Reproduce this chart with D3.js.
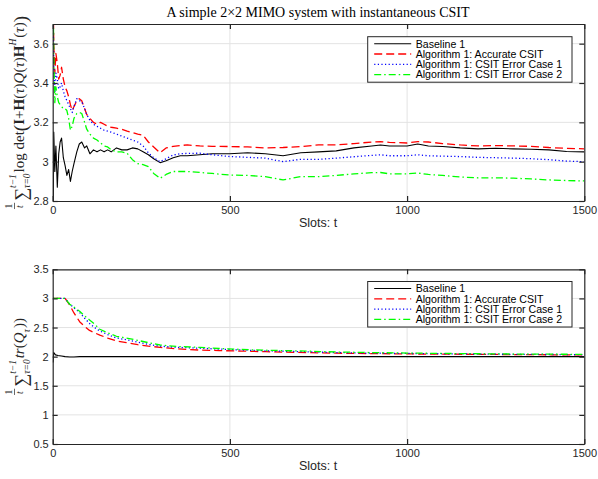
<!DOCTYPE html>
<html>
<head>
<meta charset="utf-8">
<script src="https://cdn.jsdelivr.net/npm/d3@7"></script>
<style>
body { margin: 0; background: #fff; }
</style>
</head>
<body>
<div id="chart"></div>
<script>
const width = 598;
const height = 479;

// upper panel: time averaged log det rate
const topSlots = [1, 3, 6, 9, 13, 17, 21, 25, 30, 35, 40, 45, 50, 55, 60, 68, 75, 82, 90, 96,
  105, 115, 125, 135, 145, 155, 165, 180, 195, 210, 225, 240, 255, 270, 285, 303, 320, 340, 360, 380,
  415, 450, 500, 550, 600, 650, 700, 750, 800, 850, 900, 925, 950, 1000, 1030, 1060, 1100, 1150, 1200, 1250,
  1300, 1350, 1400, 1450, 1500];
const topBaseline = [2.6, 3.15, 2.95, 3.08, 2.87, 3.04, 3.1, 3.12, 3.02, 2.98, 2.93, 2.96, 2.9, 2.95, 2.99, 3.05, 3.09, 3.1, 3.07, 3.08,
  3.04, 3.06, 3.05, 3.06, 3.05, 3.06, 3.05, 3.07, 3.06, 3.06, 3.07, 3.065, 3.05, 3.035, 3.015, 2.995, 3.005, 3.02, 3.03, 3.03,
  3.035, 3.04, 3.04, 3.045, 3.04, 3.03, 3.045, 3.05, 3.055, 3.07, 3.08, 3.085, 3.08, 3.08, 3.09, 3.08, 3.077, 3.07, 3.065, 3.068,
  3.065, 3.063, 3.06, 3.052, 3.05];
const topAccurate = [3.9, 3.6, 3.45, 3.55, 3.5, 3.42, 3.44, 3.48, 3.42, 3.38, 3.36, 3.33, 3.29, 3.26, 3.28, 3.31, 3.32, 3.31, 3.27, 3.24,
  3.22, 3.2, 3.19, 3.2, 3.19, 3.18, 3.175, 3.17, 3.165, 3.155, 3.148, 3.14, 3.135, 3.1, 3.075, 3.045, 3.07, 3.078, 3.082, 3.085,
  3.08, 3.078, 3.077, 3.075, 3.07, 3.072, 3.077, 3.085, 3.085, 3.092, 3.1, 3.102, 3.098, 3.095, 3.102, 3.1, 3.092, 3.085, 3.08, 3.082,
  3.08, 3.078, 3.072, 3.068, 3.065];
const topError1 = [3.8, 3.5, 3.35, 3.45, 3.42, 3.37, 3.38, 3.4, 3.36, 3.33, 3.31, 3.29, 3.27, 3.25, 3.28, 3.32, 3.31, 3.305, 3.27, 3.24,
  3.21, 3.19, 3.18, 3.17, 3.16, 3.155, 3.15, 3.14, 3.13, 3.12, 3.11, 3.1, 3.08, 3.045, 3.02, 3.0, 3.015, 3.034, 3.04, 3.042,
  3.043, 3.035, 3.026, 3.022, 3.018, 3.0, 3.012, 3.012, 3.018, 3.025, 3.032, 3.035, 3.03, 3.03, 3.035, 3.03, 3.028, 3.026, 3.022, 3.02,
  3.018, 3.015, 3.01, 3.003, 3.0];
const topError2 = [3.9, 3.55, 3.3, 3.38, 3.33, 3.3, 3.29, 3.28, 3.27, 3.27, 3.26, 3.22, 3.16, 3.18, 3.22, 3.245, 3.25, 3.245, 3.2, 3.165,
  3.14, 3.12, 3.11, 3.095, 3.08, 3.075, 3.06, 3.05, 3.05, 3.043, 3.01, 2.99, 2.985, 2.975, 2.94, 2.915, 2.935, 2.95, 2.95, 2.95,
  2.945, 2.94, 2.932, 2.93, 2.924, 2.907, 2.924, 2.924, 2.93, 2.938, 2.944, 2.945, 2.938, 2.938, 2.942, 2.935, 2.93, 2.922, 2.918, 2.918,
  2.916, 2.912, 2.907, 2.904, 2.902];

// lower panel: time averaged power
const botSlots = [1, 3, 8, 15, 25, 35, 48, 60, 76, 90, 104, 118, 133, 155, 180, 208, 240, 270, 303, 350,
  415, 470, 528, 600, 688, 800, 900, 1000, 1100, 1200, 1300, 1400, 1500];
const botBaseline = [1.9, 2.07, 2.03, 2.02, 2.01, 2.0, 1.995, 1.995, 2.0, 2.0, 2.0, 2.0, 2.0, 2.0, 2.0, 2.0, 2.0, 2.0, 2.0, 2.0,
  2.0, 2.0, 2.0, 2.0, 2.0, 2.0, 2.0, 2.0, 2.0, 2.0, 2.0, 2.0, 2.0];
const botAccurate = [3.0, 3.0, 3.0, 3.0, 3.0, 3.0, 2.885, 2.75, 2.6, 2.52, 2.45, 2.41, 2.37, 2.32, 2.27, 2.24, 2.205, 2.18, 2.16, 2.135,
  2.113, 2.104, 2.096, 2.085, 2.073, 2.06, 2.052, 2.047, 2.043, 2.04, 2.036, 2.032, 2.03];
const botError1 = [3.0, 3.0, 3.0, 3.0, 3.0, 3.0, 2.9, 2.84, 2.76, 2.66, 2.57, 2.5, 2.44, 2.38, 2.32, 2.29, 2.25, 2.21, 2.18, 2.16,
  2.145, 2.13, 2.115, 2.1, 2.088, 2.07, 2.06, 2.055, 2.05, 2.045, 2.04, 2.037, 2.035];
const botError2 = [3.0, 3.0, 3.0, 3.0, 3.0, 3.0, 2.9, 2.85, 2.78, 2.7, 2.63, 2.56, 2.47, 2.41, 2.35, 2.32, 2.28, 2.24, 2.2, 2.175,
  2.16, 2.14, 2.125, 2.11, 2.1, 2.08, 2.07, 2.062, 2.055, 2.05, 2.045, 2.042, 2.04];

const seriesNames = ["Baseline 1", "Algorithm 1: Accurate CSIT", "Algorithm 1: CSIT Error Case 1", "Algorithm 1: CSIT Error Case 2"];
const xTicks = [0, 500, 1000, 1500];
const topYTicks = [2.8, 3, 3.2, 3.4, 3.6];
const botYTicks = [0.5, 1, 1.5, 2, 2.5, 3, 3.5];

const lineStyles = [
  {color: "#000000", dash: null, w: 1.1},
  {color: "#ff0000", dash: "8,4", w: 1.3},
  {color: "#0000ff", dash: "1.2,2.4", w: 1.3},
  {color: "#00ff00", dash: "7,3,1.5,3", w: 1.3}
];

const axisColor = "#262626";
const sans = "'Liberation Sans', Arial, sans-serif";
const serif = "'Liberation Serif', 'Times New Roman', serif";

const svg = d3.select("#chart")
  .append("svg")
  .attr("width", width)
  .attr("height", height)
  .style("font-family", sans);

svg.append("text")
  .attr("x", 318)
  .attr("y", 17)
  .attr("text-anchor", "middle")
  .attr("font-family", serif)
  .attr("font-size", 14)
  .attr("fill", "#000")
  .text("A simple 2\u00d72 MIMO system with instantaneous CSIT");

const x = d3.scaleLinear().domain([0, 1500]).range([52.7, 584.3]);

function panel(id, y0, y1, domain, yTicks, slots, series, legendTop) {
  const y = d3.scaleLinear().domain(domain).range([y1, y0]);
  const g = svg.append("g");

  g.append("clipPath").attr("id", id)
    .append("rect")
    .attr("x", x(0)).attr("y", y0)
    .attr("width", x(1500) - x(0)).attr("height", y1 - y0);

  // grid
  g.append("g").selectAll("line")
    .data(xTicks.slice(1, -1))
    .join("line")
    .attr("x1", d => x(d)).attr("x2", d => x(d))
    .attr("y1", y0).attr("y2", y1)
    .attr("stroke", "#e3e3e3").attr("stroke-width", 1);
  g.append("g").selectAll("line")
    .data(yTicks.filter(d => d > domain[0] && d < domain[1]))
    .join("line")
    .attr("x1", x(0)).attr("x2", x(1500))
    .attr("y1", d => y(d)).attr("y2", d => y(d))
    .attr("stroke", "#e3e3e3").attr("stroke-width", 1);

  // lines
  const line = d3.line()
    .x((d, i) => x(slots[i]))
    .y(d => y(d));
  g.append("g")
    .attr("clip-path", `url(#${id})`)
    .selectAll("path")
    .data(series)
    .join("path")
    .attr("fill", "none")
    .attr("stroke", (d, i) => lineStyles[i].color)
    .attr("stroke-width", (d, i) => lineStyles[i].w)
    .attr("stroke-dasharray", (d, i) => lineStyles[i].dash)
    .attr("stroke-linejoin", "round")
    .attr("d", line);

  const fmt = d => String(+d.toFixed(2));

  // axes with ticks inside
  const axes = [
    g.append("g").attr("transform", `translate(0,${y1})`)
      .call(d3.axisBottom(x).tickValues(xTicks).tickFormat(fmt).tickSizeInner(-5).tickSizeOuter(0).tickPadding(5)),
    g.append("g").attr("transform", `translate(0,${y0})`)
      .call(d3.axisTop(x).tickValues(xTicks).tickFormat("").tickSizeInner(-5).tickSizeOuter(0)),
    g.append("g").attr("transform", `translate(${x(0)},0)`)
      .call(d3.axisLeft(y).tickValues(yTicks).tickFormat(fmt).tickSizeInner(-5).tickSizeOuter(0).tickPadding(4)),
    g.append("g").attr("transform", `translate(${x(1500)},0)`)
      .call(d3.axisRight(y).tickValues(yTicks).tickFormat("").tickSizeInner(-5).tickSizeOuter(0))
  ];
  axes.forEach(a => {
    a.select(".domain").attr("stroke", axisColor).attr("stroke-width", 1.2);
    a.selectAll(".tick line").attr("stroke", axisColor).attr("stroke-width", 1.2);
    a.selectAll(".tick text").attr("fill", axisColor).attr("font-size", 11).attr("font-family", sans);
  });

  g.append("text")
    .attr("x", 318)
    .attr("y", y1 + 26)
    .attr("text-anchor", "middle")
    .attr("font-size", 12.5)
    .attr("fill", axisColor)
    .text("Slots: t");

  // legend
  const lg = g.append("g").attr("transform", `translate(367.7,${legendTop})`);
  lg.append("rect")
    .attr("width", 204.3).attr("height", 45.5)
    .attr("fill", "#fff")
    .attr("stroke", axisColor).attr("stroke-width", 1);
  const row = lg.selectAll("g.row")
    .data(seriesNames)
    .join("g")
    .attr("class", "row")
    .attr("transform", (d, i) => `translate(0,${7 + i * 10.3})`);
  row.append("line")
    .attr("x1", 6.5).attr("x2", 43.5)
    .attr("stroke", (d, i) => lineStyles[i].color)
    .attr("stroke-width", (d, i) => lineStyles[i].w)
    .attr("stroke-dasharray", (d, i) => lineStyles[i].dash);
  row.append("text")
    .attr("x", 48)
    .attr("dy", "0.36em")
    .attr("font-size", 10.6)
    .attr("fill", "#000")
    .text(d => d);

  return y;
}

panel("clipTop", 24, 201, [2.8, 3.7], topYTicks, topSlots,
  [topBaseline, topAccurate, topError1, topError2], 36.7);
panel("clipBot", 269.3, 444, [0.5, 3.5], botYTicks, botSlots,
  [botBaseline, botAccurate, botError1, botError2], 281.5);

// rotated math labels built piece by piece
function mathLabel(cx, cy, pieces) {
  const g = svg.append("g").attr("transform", `translate(${cx},${cy}) rotate(-90)`);
  const inner = g.append("g");
  let pos = 0;
  const put = (s, px, py, o) => {
    const t = inner.append("text")
      .attr("x", px).attr("y", py)
      .attr("font-family", serif)
      .attr("font-size", o.size || 15)
      .attr("font-style", o.it ? "italic" : null)
      .attr("font-weight", o.bf ? "bold" : null)
      .attr("fill", axisColor)
      .text(s);
    return t.node().getComputedTextLength();
  };
  pieces.forEach(p => {
    if (p.frac) {
      const wa = put(p.frac[0], pos + 0.5, -12, {size: 9.5});
      const wb = put(p.frac[1], pos + 1, -1.5, {size: 9.5, it: true});
      const w = Math.max(wa, wb) + 1.5;
      inner.append("line")
        .attr("x1", pos).attr("x2", pos + w)
        .attr("y1", -9.5).attr("y2", -9.5)
        .attr("stroke", axisColor).attr("stroke-width", 0.7);
      pos += w + 2;
    } else if (p.sup !== undefined || p.sub !== undefined) {
      let w = 0;
      if (p.sup) w = Math.max(w, put(p.sup, pos, -8.5, {size: 9.5, it: true}));
      if (p.sub) w = Math.max(w, put(p.sub, pos, 5.5, {size: 9.5, it: true}));
      pos += w + 1;
    } else {
      pos += put(p.s, pos, p.dy || 0, p);
    }
  });
  inner.attr("transform", `translate(${-pos / 2},0)`);
}

mathLabel(24, 112.5, [
  {frac: ["1", "t"]},
  {s: "\u2211", size: 18, dy: 3},
  {sup: "t\u22121", sub: "\u03c4=0"},
  {s: " log det"},
  {s: "(", size: 19, dy: 3},
  {s: "I", bf: true},
  {s: " + "},
  {s: "H", bf: true},
  {s: "("},
  {s: "\u03c4", it: true},
  {s: ")"},
  {s: "Q", it: true},
  {s: "("},
  {s: "\u03c4", it: true},
  {s: ")"},
  {s: "H", bf: true},
  {sup: "H"},
  {s: "("},
  {s: "\u03c4", it: true},
  {s: ")"},
  {s: ")", size: 19, dy: 3}
]);

mathLabel(24, 356.5, [
  {frac: ["1", "t"]},
  {s: "\u2211", size: 18, dy: 3},
  {sup: "t\u22121", sub: "\u03c4=0"},
  {s: " tr", it: true},
  {s: "("},
  {s: "Q", it: true},
  {sub: "\u03c4"},
  {s: ")"},
  {s: ")"}
]);
</script>
</body>
</html>
